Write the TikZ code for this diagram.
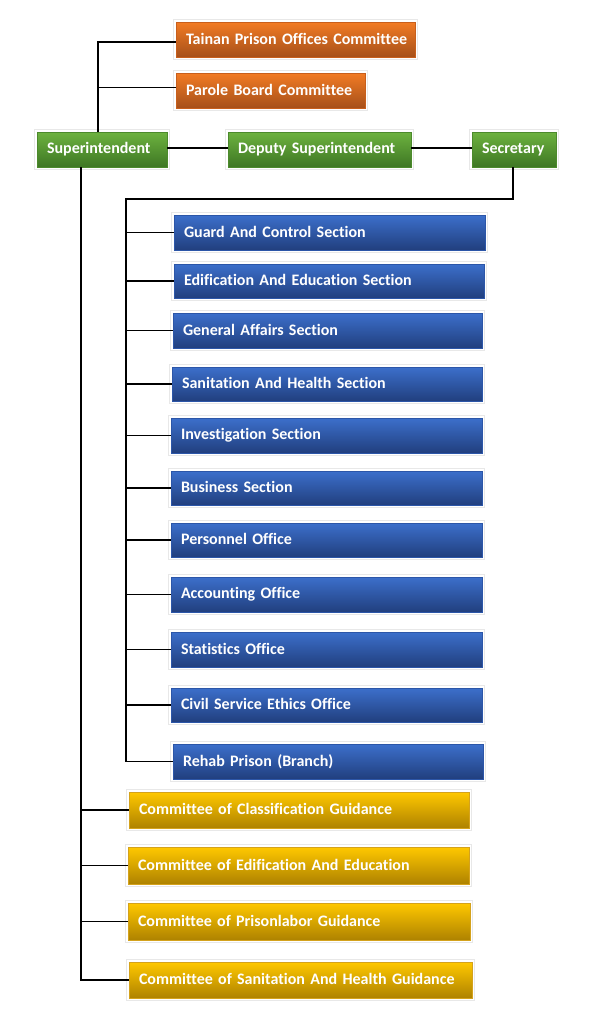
\documentclass[tikz,border=0pt]{standalone}
\usepackage{fontspec}
\setmainfont{Carlito}[Ligatures={NoCommon}]
\definecolor{orT}{HTML}{F27B24}
\definecolor{orB}{HTML}{A6501A}
\definecolor{orD}{HTML}{C85F1C}
\definecolor{grT}{HTML}{6DB23F}
\definecolor{grB}{HTML}{3E7724}
\definecolor{grD}{HTML}{4C8A2C}
\definecolor{blT}{HTML}{3C6FCB}
\definecolor{blB}{HTML}{213F7E}
\definecolor{blD}{HTML}{2C56A8}
\definecolor{goT}{HTML}{FFC800}
\definecolor{goB}{HTML}{AE8200}
\definecolor{goD}{HTML}{D4A21C}
\tikzset{
  orgbox/.style={rectangle, inner xsep=10pt, inner ysep=0pt, align=left,
    font=\fontsize{16}{19}\selectfont\bfseries, text=white,
    preaction={draw=black!9, line width=6pt},
    preaction={draw=white, line width=4pt},
    line width=0.8pt},
  orangebox/.style={orgbox, top color=orT, bottom color=orB, draw=orD},
  greenbox/.style={orgbox, top color=grT, bottom color=grB, draw=grD},
  bluebox/.style={orgbox, top color=blT, bottom color=blB, draw=blD},
  goldbox/.style={orgbox, top color=goT, bottom color=goB, draw=goD},
  link/.style={draw=black, line width=1.9pt}
}
% \ob{style}{name}{x1}{y1}{x2}{y2}{text}
\newcommand\ob[7]{%
  \pgfmathsetmacro\obh{#6-#4}%
  \pgfmathsetmacro\obtw{#5-#3-20}%
  \node[#1, text width=\obtw pt, minimum height=\obh pt] (#2) at ({(#3+#5)/2},{(#4+#6)/2}) {\raisebox{1.5pt}{\rlap{#7}}};}
\begin{document}
\begin{tikzpicture}[x=1pt,y=-1pt]
\path[use as bounding box, fill=white] (0,0) rectangle (595,1012);
% top
\ob{orangebox}{tn}{176}{22}{415}{57}{Tainan Prison Offices Committee}
\ob{orangebox}{pb}{176}{73}{365}{108}{Parole Board Committee}
\ob{greenbox}{sup}{37}{132}{167}{167}{Superintendent}
\ob{greenbox}{dep}{228}{132}{411}{167}{Deputy Superintendent}
\ob{greenbox}{sec}{472}{132}{556}{167}{Secretary}
% blue
\ob{bluebox}{b1}{174}{215}{485}{250}{Guard And Control Section}
\ob{bluebox}{b2}{174}{264}{484}{298}{Edification And Education Section}
\ob{bluebox}{b3}{173}{313}{482}{348}{General Affairs Section}
\ob{bluebox}{b4}{172}{367}{482}{401}{Sanitation And Health Section}
\ob{bluebox}{b5}{171}{418}{482}{453}{Investigation Section}
\ob{bluebox}{b6}{171}{471}{482}{505}{Business Section}
\ob{bluebox}{b7}{171}{523}{482}{557}{Personnel Office}
\ob{bluebox}{b8}{171}{577}{482}{612}{Accounting Office}
\ob{bluebox}{b9}{171}{632}{482}{667}{Statistics Office}
\ob{bluebox}{b10}{171}{688}{482}{722}{Civil Service Ethics Office}
\ob{bluebox}{b11}{173}{744}{483}{779}{Rehab Prison (Branch)}
% gold
\ob{goldbox}{c1}{129}{792}{469}{828}{Committee of Classification Guidance}
\ob{goldbox}{c2}{128}{847}{469}{884}{Committee of Edification And Education}
\ob{goldbox}{c3}{128}{903}{470}{940}{Committee of Prisonlabor Guidance}
\ob{goldbox}{c4}{129}{962}{472}{998}{Committee of Sanitation And Health Guidance}
% connectors
\coordinate (sx) at ([xshift=-4pt]sup.north);
\coordinate (tnin) at ([yshift=-2.5pt]tn.west);
\coordinate (pbin) at ([yshift=3pt]pb.west);
\draw[link] (sx) |- (tnin);
\draw[link] (sx |- pbin) -- (pbin);
\draw[link] ([yshift=1.5pt]sup.east) -- ([yshift=1.5pt]dep.west);
\draw[link] ([yshift=1.5pt]dep.east) -- ([yshift=1.5pt]sec.west);
\coordinate (bus) at (126,199);
\draw[link] ([xshift=-1pt]sec.south) |- (bus) -- (bus |- b11.west) -- (b11.west);
\foreach \n in {b1,b2,b3,b4,b5,b6,b7,b8,b9,b10}
  \draw[link] (bus |- \n.west) -- (\n.west);
\coordinate (sv) at ([xshift=-21pt]sup.south);
\draw[link] (sv) -- (sv |- c4.west) -- (c4.west);
\foreach \n in {c1,c2,c3}
  \draw[link] (sv |- \n.west) -- (\n.west);
\end{tikzpicture}
\end{document}
